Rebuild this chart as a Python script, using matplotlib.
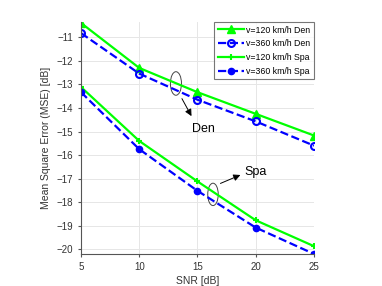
import matplotlib
matplotlib.use('Agg')
import matplotlib.pyplot as plt
from matplotlib.patches import Ellipse

# data
snr = [5, 10, 15, 20, 25]
den_120 = [-10.39, -12.30, -13.33, -14.25, -15.17]
den_360 = [-10.82, -12.54, -13.65, -14.57, -15.60]
spa_120 = [-13.11, -15.40, -17.12, -18.77, -19.87]
spa_360 = [-13.33, -15.75, -17.52, -19.08, -20.20]

plt.rcParams['font.family'] = ['Liberation Sans', 'DejaVu Sans']

fig = plt.figure(figsize=(3.82, 2.86), dpi=100)
ax = fig.add_axes([0.212, 0.112, 0.61, 0.811])

ax.plot(snr, den_120, '-', color='#00ff00', lw=1.6, marker='^', ms=6,
        label='v=120 km/h Den')
ax.plot(snr, den_360, '--', color='#0000ff', lw=1.6, marker='o', ms=5,
        mfc='none', mew=1.5, label='v=360 km/h Den')
ax.plot(snr, spa_120, '-', color='#00ff00', lw=1.6, marker='+', ms=5,
        mew=1.5, label='v=120 km/h Spa')
ax.plot(snr, spa_360, '--', color='#0000ff', lw=1.6, marker='o', ms=4.5,
        label='v=360 km/h Spa')

ax.set_xlim(5, 25)
ax.set_ylim(-20.2, -10.35)
ax.set_xticks(snr)
ax.set_yticks(range(-20, -10))
ax.grid(True, color='#e6e6e6', lw=0.7)
ax.set_axisbelow(True)
for s in ['top', 'right']:
    ax.spines[s].set_visible(False)
for s in ['left', 'bottom']:
    ax.spines[s].set_color('#555555')
ax.tick_params(labelsize=7, length=2, color='#555555', labelcolor='#333333')
ax.set_xlabel('SNR [dB]', fontsize=7.5, color='#333333', labelpad=3)
ax.set_ylabel('Mean Square Error (MSE) [dB]', fontsize=7.5, color='#333333')

# annotations
ax.add_patch(Ellipse((13.15, -12.96), 0.95, 1.0, fill=False, ec='#444444', lw=0.7))
ax.annotate('', xy=(14.6, -14.45), xytext=(13.55, -13.5),
            arrowprops=dict(arrowstyle='-|>', color='black', lw=0.7))
ax.text(14.5, -14.9, 'Den', fontsize=9, va='center', ha='left')

ax.add_patch(Ellipse((16.33, -17.67), 0.9, 0.95, fill=False, ec='#444444', lw=0.7))
ax.annotate('', xy=(18.9, -16.8), xytext=(16.75, -17.25),
            arrowprops=dict(arrowstyle='-|>', color='black', lw=0.7))
ax.text(19.0, -16.72, 'Spa', fontsize=9, va='center', ha='left')

leg = ax.legend(loc='upper right', fontsize=6.3, frameon=True, fancybox=False,
                edgecolor='#555555', handlelength=3.0, borderpad=0.35,
                labelspacing=0.55, handletextpad=0.3, borderaxespad=0.05)
leg.get_frame().set_linewidth(0.8)

fig.savefig('out.png', dpi=100)
